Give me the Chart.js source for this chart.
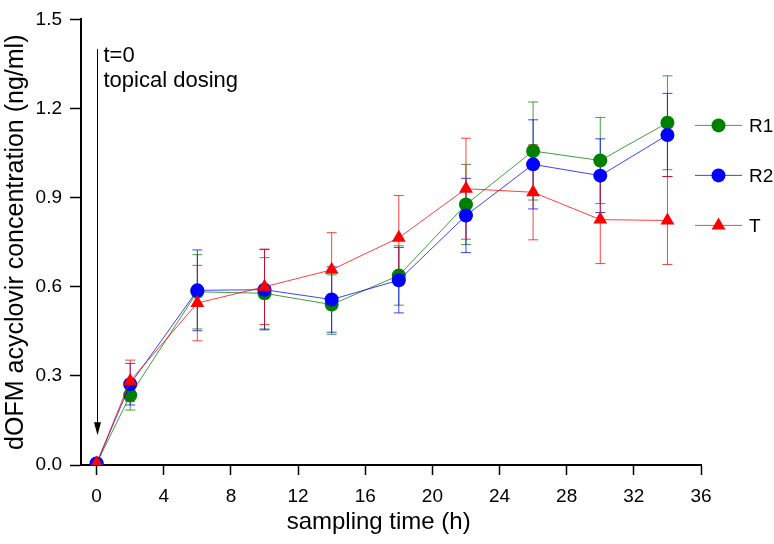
<!DOCTYPE html>
<html lang="en">
<head>
    <meta charset="UTF-8">
    <title>dOFM acyclovir concentration</title>
    <script src="https://cdn.jsdelivr.net/npm/chart.js@4"></script>
    <style>
        body { margin: 0; background: #fff; }
        canvas { display: block; }
    </style>
</head>
<body>
    <canvas id="chart" width="774" height="544"></canvas>

    <script>
        // sampling times (h) and mean concentrations (ng/ml) with error bars
        const times = [0, 2, 6, 10, 14, 18, 22, 26, 30, 34];
        const r1 = [0.005, 0.235, 0.583, 0.578, 0.540, 0.638, 0.877, 1.057, 1.025, 1.152];
        const r1Err = [0, 0.05, 0.125, 0.12, 0.10, 0.10, 0.135, 0.165, 0.145, 0.158];
        const r2 = [0.005, 0.272, 0.588, 0.590, 0.557, 0.622, 0.840, 1.012, 0.974, 1.111];
        const r2Err = [0, 0.07, 0.136, 0.135, 0.11, 0.11, 0.125, 0.15, 0.124, 0.14];
        const t = [0.005, 0.283, 0.545, 0.600, 0.657, 0.765, 0.930, 0.918, 0.826, 0.823];
        const tErr = [0, 0.07, 0.127, 0.127, 0.125, 0.142, 0.17, 0.16, 0.148, 0.148];

        const xTicks = [0, 4, 8, 12, 16, 20, 24, 28, 32, 36];
        const yTicks = [0, 0.3, 0.6, 0.9, 1.2, 1.5];

        const FONT = "'Liberation Sans', Arial, sans-serif";

        const series = [
            { label: 'R1', values: r1, errors: r1Err, color: '#008000', style: 'circle', radius: 7, order: 3 },
            { label: 'R2', values: r2, errors: r2Err, color: '#0000ff', style: 'circle', radius: 7, order: 2 },
            { label: 'T', values: t, errors: tErr, color: '#ff0000', style: 'triangle', radius: 8, order: 1 }
        ];

        function drawMarker(ctx, style, x, y, r, color) {
            ctx.fillStyle = color;
            ctx.beginPath();
            if (style === 'triangle') {
                ctx.moveTo(x, y - r);
                ctx.lineTo(x + r * Math.sin(2 * Math.PI / 3), y - r * Math.cos(2 * Math.PI / 3));
                ctx.lineTo(x + r * Math.sin(4 * Math.PI / 3), y - r * Math.cos(4 * Math.PI / 3));
                ctx.closePath();
            } else {
                ctx.arc(x, y, r, 0, Math.PI * 2);
            }
            ctx.fill();
        }

        // error bars, drawn under the markers
        const errorBars = {
            id: 'errorBars',
            beforeDatasetsDraw(chart) {
                const ctx = chart.ctx;
                const xs = chart.scales.x, ys = chart.scales.y;
                ctx.save();
                ctx.lineWidth = 1;
                series.forEach(s => {
                    ctx.strokeStyle = s.color;
                    ctx.globalAlpha = 0.75;
                    times.forEach((tm, i) => {
                        const e = s.errors[i];
                        if (!e) return;
                        const px = xs.getPixelForValue(tm);
                        const top = ys.getPixelForValue(s.values[i] + e);
                        const bot = ys.getPixelForValue(s.values[i] - e);
                        ctx.beginPath();
                        ctx.moveTo(px, top); ctx.lineTo(px, bot);
                        ctx.moveTo(px - 5, top); ctx.lineTo(px + 5, top);
                        ctx.moveTo(px - 5, bot); ctx.lineTo(px + 5, bot);
                        ctx.stroke();
                    });
                });
                ctx.restore();
            }
        };

        // dosing arrow, annotation, x title and legend
        const extras = {
            id: 'extras',
            afterDraw(chart) {
                const ctx = chart.ctx;
                const xs = chart.scales.x, ys = chart.scales.y;
                const area = chart.chartArea;
                ctx.save();

                const ax = Math.round(xs.getPixelForValue(0)) + 0.5;
                const aTop = ys.getPixelForValue(1.4);
                const aTip = ys.getPixelForValue(0.1);
                ctx.strokeStyle = '#000';
                ctx.fillStyle = '#000';
                ctx.lineWidth = 1;
                ctx.beginPath();
                ctx.moveTo(ax, aTop); ctx.lineTo(ax, aTip - 10);
                ctx.stroke();
                ctx.beginPath();
                ctx.moveTo(ax, aTip);
                ctx.lineTo(ax - 3.5, aTip - 13);
                ctx.lineTo(ax + 3.5, aTip - 13);
                ctx.closePath();
                ctx.fill();

                ctx.font = '22px ' + FONT;
                ctx.textAlign = 'left';
                ctx.textBaseline = 'alphabetic';
                ctx.fillText('t=0', ax + 6, aTop + 13);
                ctx.fillText('topical dosing', ax + 6, aTop + 38);

                // x axis title, sits a little left of the axis centre
                ctx.font = '24px ' + FONT;
                ctx.textAlign = 'center';
                ctx.textBaseline = 'middle';
                ctx.fillText('sampling time (h)', xs.getPixelForValue(16.8), area.bottom + 57);

                // legend
                const lx0 = area.right - 6, lx1 = area.right + 41;
                ctx.font = '19px ' + FONT;
                ctx.textAlign = 'left';
                series.forEach((s, i) => {
                    const ly = area.top + 106 + i * 50;
                    ctx.strokeStyle = s.color;
                    ctx.globalAlpha = 0.75;
                    ctx.beginPath();
                    ctx.moveTo(lx0, ly); ctx.lineTo(lx1, ly);
                    ctx.stroke();
                    ctx.globalAlpha = 1;
                    drawMarker(ctx, s.style, (lx0 + lx1) / 2, ly, s.radius, s.color);
                    ctx.fillStyle = '#000';
                    ctx.fillText(s.label, lx1 + 7, ly + 1);
                });
                ctx.restore();
            }
        };

        const ctx = document.getElementById('chart').getContext('2d');
        new Chart(ctx, {
            type: 'line',
            data: {
                datasets: series.map(s => ({
                    label: s.label,
                    data: times.map((tm, i) => ({ x: tm, y: s.values[i] })),
                    borderColor: s.color + 'c0',
                    backgroundColor: s.color,
                    borderWidth: 1,
                    pointStyle: s.style,
                    pointRadius: s.radius,
                    pointBorderWidth: 0,
                    pointBackgroundColor: s.color,
                    tension: 0,
                    order: s.order
                }))
            },
            options: {
                responsive: false,
                animation: false,
                layout: { padding: { top: 6, right: 73, left: 0, bottom: 0 } },
                plugins: { legend: { display: false }, tooltip: { enabled: false } },
                scales: {
                    x: {
                        type: 'linear',
                        min: -0.93,
                        max: 36,
                        afterBuildTicks: s => { s.ticks = xTicks.map(v => ({ value: v })); },
                        afterFit: s => { s.height = 79; },
                        grid: { drawOnChartArea: false, tickLength: 10, tickColor: '#000', tickWidth: 1.5 },
                        border: { color: '#000', width: 2 },
                        ticks: { color: '#000', padding: 10, font: { family: FONT, size: 19 }, maxRotation: 0 }
                    },
                    y: {
                        min: 0,
                        max: 1.5,
                        afterBuildTicks: s => { s.ticks = yTicks.map(v => ({ value: v })); },
                        afterFit: s => { s.width = 81; },
                        grid: { drawOnChartArea: false, tickLength: 11, tickColor: '#000', tickWidth: 1.5 },
                        border: { color: '#000', width: 2 },
                        ticks: { color: '#000', padding: 8, font: { family: FONT, size: 19 },
                                 callback: v => v.toFixed(1) },
                        title: { display: true, text: 'dOFM acyclovir concentration (ng/ml)', color: '#000',
                                 font: { family: FONT, size: 25 }, padding: { top: 1, bottom: 0 } }
                    }
                }
            },
            plugins: [errorBars, extras]
        });
    </script>
</body>
</html>
